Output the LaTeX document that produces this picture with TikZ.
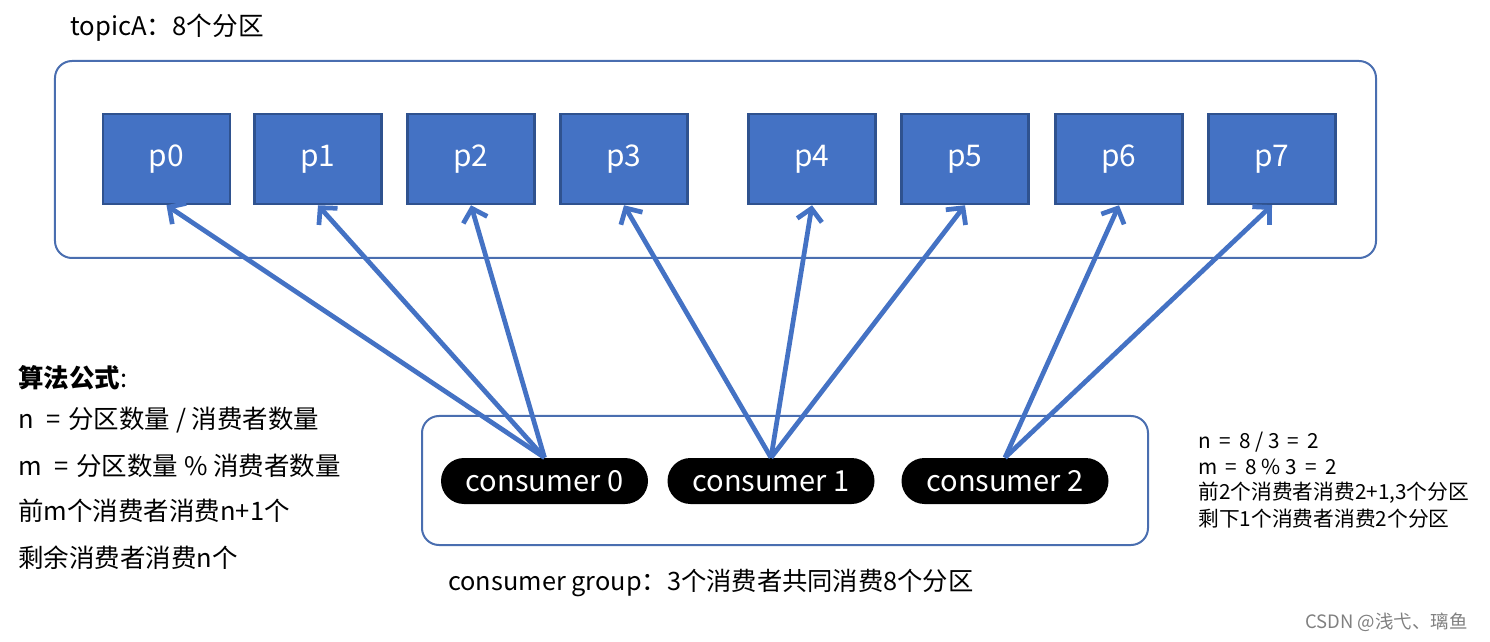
\documentclass[tikz,border=0pt]{standalone}
\usepackage{fontspec}
\setmainfont{Noto Sans CJK SC}
\usetikzlibrary{arrows.meta,positioning}
\definecolor{partblue}{HTML}{4472C4}
\definecolor{partedge}{HTML}{2F528F}
\definecolor{boxedge}{HTML}{4A6EB0}
\newcommand{\wideeq}{\hspace{0.4em}=\hspace{0.4em}}

\begin{document}
\begin{tikzpicture}[x=0.2mm,y=-0.2mm]
	\tikzstyle{every node}+=[inner sep=0pt]
	\tikzstyle{part}=[draw=partedge,fill=partblue,line width=0.5mm,minimum width=25.4mm,minimum height=18mm,text=white,font=\fontsize{17}{20}\selectfont]
	\tikzstyle{consumer}=[fill=black,rounded corners=4.6mm,minimum width=41.4mm,minimum height=9.2mm,text=white,font=\fontsize{16.5}{20}\selectfont]
	\tikzstyle{groupbox}=[draw=boxedge,line width=0.4mm,rounded corners=3.4mm]
	\tikzstyle{assign}=[draw=partblue,line width=0.95mm,-{Straight Barb[length=2.4mm,width=5mm]}]
	\tikzstyle{note}=[anchor=west,align=left]
	\useasboundingbox (0,0) rectangle (1490,642);
	% topic and partitions
	\node[note,font=\fontsize{14.6}{16}\selectfont] (title) at (70,28) {topicA：8个分区};
	\node[groupbox,minimum width=264.2mm,minimum height=39.4mm] (topic) at (715.5,159.5) {};
	\node[part] (p0) at (166.5,159) {p0};
	\node[part] (p1) at (318,159) {p1};
	\node[part] (p2) at (471,159) {p2};
	\node[part] (p3) at (624,159) {p3};
	\node[part] (p4) at (812,159) {p4};
	\node[part] (p5) at (965,159) {p5};
	\node[part] (p6) at (1119,159) {p6};
	\node[part] (p7) at (1272,159) {p7};
	% consumer group
	\node[groupbox,minimum width=145.2mm,minimum height=25.8mm] (group) at (785,480.5) {};
	\node[consumer] (c0) at (544.5,481) {consumer 0};
	\node[consumer] (c1) at (771,481) {consumer 1};
	\node[consumer] (c2) at (1005,481) {consumer 2};
	\node[note,font=\fontsize{14.4}{16}\selectfont] (grouplabel) at (448,583) {consumer group：3个消费者共同消费8个分区};
	% assignment
	\foreach \c/\p in {c0/p0,c0/p1,c0/p2,c1/p3,c1/p4,c1/p5,c2/p6,c2/p7}
		\draw[assign] (\c.north) -- (\p.south);
	% formula
	\node[note,font=\fontsize{14.5}{16}\selectfont] (rule0) at (18,378) {\textbf{算法公式}:};
	\node[note,font=\fontsize{14.5}{16}\selectfont] (rule1) at (18,420) {n\enspace=\hspace{0.3em}分区数量 / 消费者数量};
	\node[note,font=\fontsize{14.5}{16}\selectfont] (rule2) at (18,466) {m\enspace=\hspace{0.3em}分区数量 \% 消费者数量};
	\node[note,font=\fontsize{14.5}{16}\selectfont] (rule3) at (18,511) {前m个消费者消费n+1个};
	\node[note,font=\fontsize{14.5}{16}\selectfont] (rule4) at (18,558) {剩余消费者消费n个};
	% example
	\node[note,font=\fontsize{11.8}{14}\selectfont] (ex1) at (1198,442) {n\wideeq 8 / 3\wideeq 2};
	\node[note,font=\fontsize{11.8}{14}\selectfont] (ex2) at (1198,467) {m\wideeq 8 \% 3\wideeq 2};
	\node[note,font=\fontsize{11.8}{14}\selectfont] (ex3) at (1198,493) {前2个消费者消费2+1,3个分区};
	\node[note,font=\fontsize{11.8}{14}\selectfont] (ex4) at (1198,519) {剩下1个消费者消费2个分区};
	\node[note,text=gray,font=\fontsize{10.5}{12}\selectfont] (mark) at (1305,622) {CSDN @浅弋、璃鱼};
\end{tikzpicture}
\end{document}
